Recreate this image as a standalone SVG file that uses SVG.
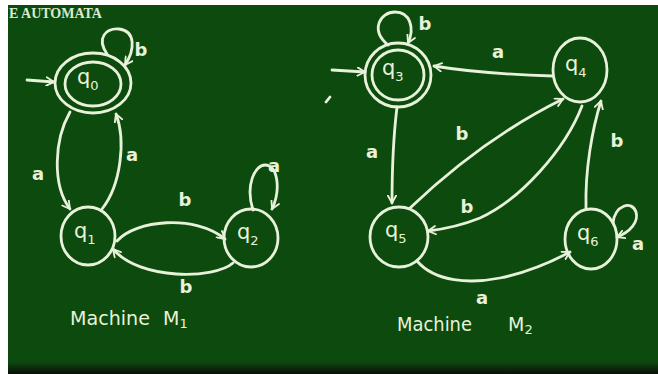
<svg xmlns="http://www.w3.org/2000/svg" width="658" height="374" viewBox="0 0 658 374">
<defs>
<linearGradient id="bottomShade" x1="0" y1="0" x2="0" y2="1">
<stop offset="0" stop-color="#0d470d"/>
<stop offset="1" stop-color="#0a0f0a"/>
</linearGradient>
<marker id="arr" viewBox="0 0 12 12" refX="10" refY="6" markerWidth="10" markerHeight="10" markerUnits="userSpaceOnUse" orient="auto">
<path d="M1,1 L10,6 L1,11" fill="none" stroke="#e8f2da" stroke-width="2.2" stroke-linecap="round" stroke-linejoin="round"/>
</marker>
</defs>
<style>
.chalk{fill:none;stroke:#e8f2da;stroke-width:2.8;stroke-linecap:round;stroke-linejoin:round}
.edge{fill:none;stroke:#e8f2da;stroke-width:2.8;stroke-linecap:round;marker-end:url(#arr)}
.lbl{font-family:"DejaVu Sans",sans-serif;font-size:18px;font-weight:bold;fill:#e8f2da;text-anchor:middle}
.q{font-family:"DejaVu Sans",sans-serif;font-size:21px;fill:#e8f2da}
.sub{font-size:13px}
.cap{font-family:"DejaVu Sans",sans-serif;font-size:19px;fill:#e8f2da}
</style>
<rect x="0" y="0" width="658" height="374" fill="#ffffff"/>
<rect x="8" y="5" width="650" height="369" fill="#0d4a0d"/>
<rect x="8" y="362" width="650" height="12" fill="url(#bottomShade)"/>
<text x="9" y="18" font-family="Liberation Serif, serif" font-weight="bold" font-size="14" fill="#d8ead0">E AUTOMATA</text>

<g id="connectors">
<!-- Machine M1 -->
<path class="edge" d="M27,80 L54,82"/>
<path class="edge" d="M107,54 C 96,38 106,28 119,29 C 136,31 135,50 125,65"/>
<path class="edge" d="M70,112 C 54,140 52,185 70,209"/>
<path class="edge" d="M102,209 C 121,185 126,140 116,114"/>
<path class="edge" d="M117,241 C 135,220 195,214 225,239"/>
<path class="edge" d="M233,263 C 215,279 140,281 113,249"/>
<path class="edge" d="M253,210 C 245,185 255,165 265,165 C 278,165 281,190 272,209"/>
<!-- Machine M2 -->
<path class="edge" d="M332,70 L365,72"/>
<path class="edge" d="M388,45 C 370,30 380,12 395,12 C 410,12 415,28 408,43"/>
<path class="edge" d="M553,76 C 520,75 470,72 434,66"/>
<path class="edge" d="M397,107 C 393,140 392,170 392,203"/>
<path class="edge" d="M410,208 C 450,170 500,130 563,99"/>
<path class="edge" d="M582,106 C 565,150 520,200 480,218 C 460,226 445,229 428,231"/>
<path class="edge" d="M586,208 C 585,170 592,130 601,101"/>
<path class="edge" d="M613,223 C 615,205 632,200 636,212 C 639,222 630,232 617,237"/>
<path class="edge" d="M417,261 C 435,282 470,284 500,278 C 530,272 555,260 570,252"/>
<path class="chalk" d="M326,102 L330,97"/>
</g>

<g id="edge-labels">
<text class="lbl" x="141" y="56">b</text>
<text class="lbl" x="38" y="180">a</text>
<text class="lbl" x="132" y="161">a</text>
<text class="lbl" x="185" y="206">b</text>
<text class="lbl" x="186" y="293">b</text>
<text class="lbl" x="274" y="172">a</text>
<text class="lbl" x="425" y="30">b</text>
<text class="lbl" x="498" y="58">a</text>
<text class="lbl" x="372" y="158">a</text>
<text class="lbl" x="462" y="140">b</text>
<text class="lbl" x="467" y="213">b</text>
<text class="lbl" x="617" y="147">b</text>
<text class="lbl" x="638" y="250">a</text>
<text class="lbl" x="482" y="304">a</text>
</g>

<g id="q0">
<ellipse class="chalk" cx="93" cy="83" rx="38" ry="30"/>
<ellipse class="chalk" cx="93" cy="84" rx="28" ry="22"/>
<text class="q" x="77" y="84">q<tspan class="sub" dy="6">0</tspan></text>
</g>
<g id="q1">
<ellipse class="chalk" cx="88" cy="236" rx="27" ry="29"/>
<text class="q" x="74" y="238">q<tspan class="sub" dy="6">1</tspan></text>
</g>
<g id="q2">
<ellipse class="chalk" cx="251" cy="238" rx="27" ry="29"/>
<text class="q" x="237" y="239">q<tspan class="sub" dy="6">2</tspan></text>
</g>
<g id="q3">
<ellipse class="chalk" cx="398" cy="75" rx="33" ry="32"/>
<ellipse class="chalk" cx="398" cy="75" rx="26" ry="25"/>
<text class="q" x="382" y="75">q<tspan class="sub" dy="6">3</tspan></text>
</g>
<g id="q4">
<ellipse class="chalk" cx="580" cy="70" rx="27" ry="32"/>
<text class="q" x="565" y="71">q<tspan class="sub" dy="6">4</tspan></text>
</g>
<g id="q5">
<ellipse class="chalk" cx="399" cy="237" rx="29" ry="30"/>
<text class="q" x="385" y="237">q<tspan class="sub" dy="6">5</tspan></text>
</g>
<g id="q6">
<ellipse class="chalk" cx="591" cy="239" rx="26" ry="30"/>
<text class="q" x="577" y="240">q<tspan class="sub" dy="6">6</tspan></text>
</g>

<g id="captions">
<text class="cap" x="70" y="325" textLength="80" lengthAdjust="spacingAndGlyphs">Machine</text>
<text class="cap" x="163" y="325">M<tspan class="sub" dy="3">1</tspan></text>
<text class="cap" x="397" y="331" textLength="75" lengthAdjust="spacingAndGlyphs">Machine</text>
<text class="cap" x="508" y="331">M<tspan class="sub" dy="3">2</tspan></text>
</g>
</svg>
